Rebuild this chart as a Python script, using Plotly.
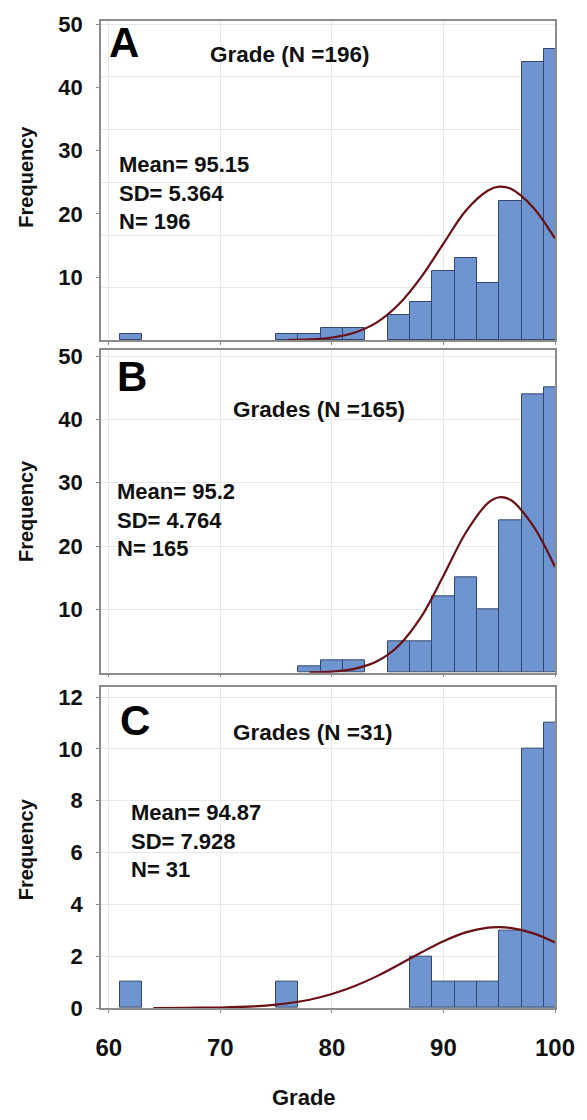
import plotly.graph_objects as go

# ---------------- data ----------------
# histogram bins are 2 grade points wide; values are bin centres
bins_A = [62, 76, 78, 80, 82, 86, 88, 90, 92, 94, 96, 98, 100]
counts_A = [1, 1, 1, 2, 2, 4, 6, 11, 13, 9, 22, 44, 46]

bins_B = [78, 80, 82, 86, 88, 90, 92, 94, 96, 98, 100]
counts_B = [1, 2, 2, 5, 5, 12, 15, 10, 24, 44, 45]

bins_C = [62, 76, 88, 90, 92, 94, 96, 98, 100]
counts_C = [1, 1, 2, 1, 1, 1, 3, 10, 11]

# fitted normal curves
curve_x_A = [76, 78, 80, 82, 84, 86, 88, 90, 92, 94, 95, 96, 98, 100]
curve_y_A = [0.05, 0.15, 0.45, 1.2, 2.8, 5.7, 10.0, 15.3, 20.5, 23.7, 24.3, 24.0, 21.1, 16.1]

curve_x_B = [78, 80, 82, 84, 86, 88, 90, 92, 94, 95, 96, 98, 100]
curve_y_B = [0.05, 0.17, 0.6, 1.75, 4.3, 8.8, 15.3, 22.1, 26.8, 27.7, 27.3, 23.3, 16.7]

curve_x_C = [64, 67, 70, 73, 75, 78, 80, 82, 84, 86, 88, 90, 92, 94, 95, 96, 98, 100]
curve_y_C = [0.0, 0.01, 0.02, 0.06, 0.13, 0.32, 0.54, 0.84, 1.22, 1.67, 2.14, 2.58, 2.92, 3.10, 3.12, 3.09, 2.89, 2.53]

x_ticks = [60, 70, 80, 90, 100]
y_ticks_AB = [10, 20, 30, 40, 50]
y_ticks_C = [0, 2, 4, 6, 8, 10, 12]

panel_letters = ["A", "B", "C"]
panel_titles = ["Grade (N =196)", "Grades (N =165)", "Grades (N =31)"]
panel_stats = [
    "Mean= 95.15<br>SD= 5.364<br>N= 196",
    "Mean= 95.2<br>SD= 4.764<br>N= 165",
    "Mean= 94.87<br>SD= 7.928<br>N= 31",
]

# ---------------- styling ----------------
W, H = 587, 1120
ML, MR, MT, MB = 101, 26, 19, 112
PW, PH = W - ML - MR, H - MT - MB
FONT = "Liberation Sans"
BAR = "#6f95d0"
EDGE = "#34476a"
CURVE = "#6a0f14"
FRAME = "#8c8c8c"
GRID = "#e8e8e8"


def px_x(p):
    return (p - ML) / PW


def px_y(p):
    return (H - MB - p) / PH


def dom(top, bottom):
    return [px_y(bottom), px_y(top)]


domains = [dom(19, 339), dom(349, 672), dom(686, 1008)]

fig = go.Figure()

data = [
    (bins_A, counts_A, curve_x_A, curve_y_A),
    (bins_B, counts_B, curve_x_B, curve_y_B),
    (bins_C, counts_C, curve_x_C, curve_y_C),
]
for i, (bx, by, cx, cy) in enumerate(data):
    xa = "x" if i == 0 else f"x{i+1}"
    ya = "y" if i == 0 else f"y{i+1}"
    fig.add_trace(go.Bar(
        x=bx, y=by, width=2, xaxis=xa, yaxis=ya,
        marker=dict(color=BAR, line=dict(color=EDGE, width=1)),
        showlegend=False, hoverinfo="skip",
    ))
    fig.add_trace(go.Scatter(
        x=cx, y=cy, mode="lines", xaxis=xa, yaxis=ya,
        line=dict(color=CURVE, width=2.2, shape="spline", smoothing=1.0),
        showlegend=False, hoverinfo="skip",
    ))

y_ranges = [[0, 50.5], [0, 50.9], [0, 12.4]]
layout = dict(
    width=W, height=H,
    margin=dict(l=ML, r=MR, t=MT, b=MB),
    paper_bgcolor="white", plot_bgcolor="white",
    bargap=0, barmode="overlay",
    font=dict(family=FONT, color="#111111"),
)
for i in range(3):
    xk = "xaxis" if i == 0 else f"xaxis{i+1}"
    yk = "yaxis" if i == 0 else f"yaxis{i+1}"
    ya = "y" if i == 0 else f"y{i+1}"
    xa = "x" if i == 0 else f"x{i+1}"
    layout[xk] = dict(
        domain=[0, 1], anchor=ya, range=[59.3, 100],
        tickvals=x_ticks, ticktext=[str(v) for v in x_ticks],
        showticklabels=(i == 2),
        tickfont=dict(family=FONT, size=24, color="#111111", weight="bold"),
        ticks="outside", ticklen=3, tickcolor=FRAME,
        ticklabelstandoff=14,
        showline=True, mirror=True, linecolor=FRAME, linewidth=1.5,
        showgrid=True, gridcolor=GRID, gridwidth=1, zeroline=False,
    )
    yd = dict(
        domain=domains[i], anchor=xa, range=y_ranges[i],
        tickvals=(y_ticks_C if i == 2 else y_ticks_AB),
        tickfont=dict(family=FONT, size=22, color="#111111", weight="bold"),
        ticks="outside", ticklen=3, tickcolor=FRAME,
        ticklabelstandoff=9,
        showline=True, mirror=True, linecolor=FRAME, linewidth=1.5,
        showgrid=(i != 0), gridcolor=GRID, gridwidth=1, zeroline=False,
    )
    if i == 0:
        yd["minor"] = dict(tickmode="linear", tick0=0, dtick=8.33,
                           showgrid=True, gridcolor=GRID, gridwidth=1, ticks="")
    layout[yk] = yd

fig.update_layout(**layout)

ann = []
letter_pos = [(124, 41), (132, 375), (135, 720)]
title_pos = [(292, 53), (322, 408), (315, 732)]
stats_pos = [(117, 191), (115, 519), (129, 841)]
freq_y = [175, 510, 849]
for i in range(3):
    ann.append(dict(text=panel_letters[i], x=px_x(letter_pos[i][0]), y=px_y(letter_pos[i][1]),
                    xref="paper", yref="paper", showarrow=False, xanchor="center", yanchor="middle",
                    font=dict(family=FONT, size=42, color="#000000", weight="bold")))
    ann.append(dict(text=panel_titles[i], x=px_x(title_pos[i][0]), y=px_y(title_pos[i][1]),
                    xref="paper", yref="paper", showarrow=False, xanchor="center", yanchor="middle",
                    font=dict(family=FONT, size=22.5, color="#111111", weight="bold")))
    ann.append(dict(text=panel_stats[i], x=px_x(stats_pos[i][0]), y=px_y(stats_pos[i][1]),
                    xref="paper", yref="paper", showarrow=False, xanchor="left", yanchor="middle",
                    align="left",
                    font=dict(family=FONT, size=22, color="#111111", weight="bold")))
    ann.append(dict(text="Frequency", x=px_x(25), y=px_y(freq_y[i]), textangle=-90,
                    xref="paper", yref="paper", showarrow=False, xanchor="center", yanchor="middle",
                    font=dict(family=FONT, size=20, color="#111111", weight="bold")))
ann.append(dict(text="Grade", x=px_x(307), y=px_y(1098), xref="paper", yref="paper",
                showarrow=False, xanchor="center", yanchor="middle",
                font=dict(family=FONT, size=22, color="#111111", weight="bold")))
fig.update_layout(annotations=ann)

fig.write_html(
    "out.html",
    config={"displayModeBar": False},
    post_script="document.body.style.margin='0';document.body.style.overflow='hidden';",
)
